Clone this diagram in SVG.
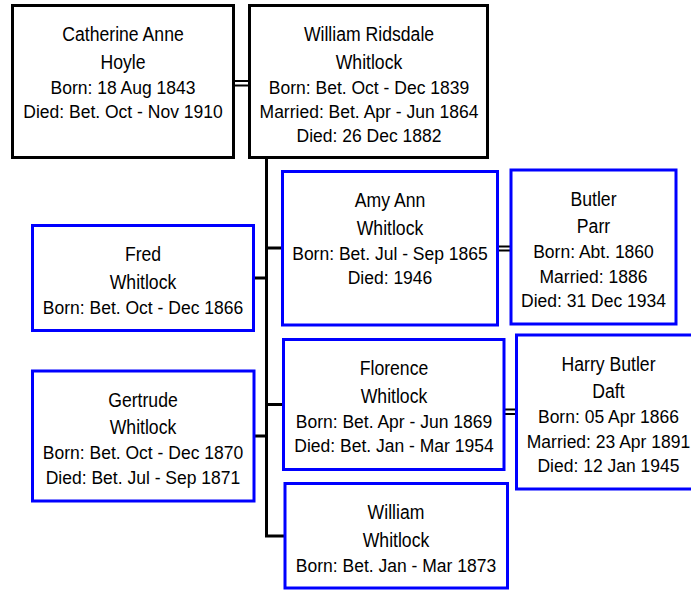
<svg xmlns="http://www.w3.org/2000/svg" width="691" height="590" viewBox="0 0 691 590">
<style>
.bk{fill:#fff;stroke:#000;stroke-width:3}
.bl{fill:#fff;stroke:#0000ff;stroke-width:3}
.ln{stroke:#000;stroke-width:3;fill:none}
.mr{stroke:#000;stroke-width:2.2;fill:none}
text{font-family:"Liberation Sans",Arial,sans-serif;fill:#000;text-anchor:middle}
.nm{font-size:21px}
.dt{font-size:17.5px}
</style>
<rect width="691" height="590" fill="#fff"/>
<g id="connectors">
<path class="ln" d="M266.5 157.5V537.5M266.5 248H282.5M253.5 278H266.5M266.5 404.5H283.5M253.5 436H266.5M266.5 536H285"/>
<path class="mr" d="M233.5 81H249.5M233.5 85.5H249.5M497.5 246.5H511M497.5 250.5H511M504 409.5H516.5M504 414H516.5"/>
</g>
<g id="catherine">
<rect class="bk" x="12.5" y="5.5" width="221" height="152"/>
<text class="nm" transform="matrix(0.84 0 0 1 123 41)">Catherine Anne</text>
<text class="nm" transform="matrix(0.84 0 0 1 123 68.5)">Hoyle</text>
<text class="dt" x="123" y="93.5">Born: 18 Aug 1843</text>
<text class="dt" x="123" y="118">Died: Bet. Oct - Nov 1910</text>
</g>
<g id="william-ridsdale">
<rect class="bk" x="249.5" y="5.5" width="238" height="152"/>
<text class="nm" transform="matrix(0.84 0 0 1 369 41)">William Ridsdale</text>
<text class="nm" transform="matrix(0.84 0 0 1 369 68.5)">Whitlock</text>
<text class="dt" x="369" y="93.5">Born: Bet. Oct - Dec 1839</text>
<text class="dt" x="369" y="118">Married: Bet. Apr - Jun 1864</text>
<text class="dt" x="369" y="142">Died: 26 Dec 1882</text>
</g>
<g id="amy">
<rect class="bl" x="282.5" y="171.5" width="215" height="153.5"/>
<text class="nm" transform="matrix(0.84 0 0 1 390 207)">Amy Ann</text>
<text class="nm" transform="matrix(0.84 0 0 1 390 234.5)">Whitlock</text>
<text class="dt" x="390" y="259.5">Born: Bet. Jul - Sep 1865</text>
<text class="dt" x="390" y="284">Died: 1946</text>
</g>
<g id="butler-parr">
<rect class="bl" x="511" y="170" width="165" height="154"/>
<text class="nm" transform="matrix(0.84 0 0 1 593.5 205.5)">Butler</text>
<text class="nm" transform="matrix(0.84 0 0 1 593.5 233)">Parr</text>
<text class="dt" x="593.5" y="258">Born: Abt. 1860</text>
<text class="dt" x="593.5" y="282.5">Married: 1886</text>
<text class="dt" x="593.5" y="306.5">Died: 31 Dec 1934</text>
</g>
<g id="fred">
<rect class="bl" x="32.5" y="225.5" width="221" height="105"/>
<text class="nm" transform="matrix(0.84 0 0 1 143 261)">Fred</text>
<text class="nm" transform="matrix(0.84 0 0 1 143 288.5)">Whitlock</text>
<text class="dt" x="143" y="313.5">Born: Bet. Oct - Dec 1866</text>
</g>
<g id="florence">
<rect class="bl" x="283.5" y="339.5" width="220.5" height="130"/>
<text class="nm" transform="matrix(0.84 0 0 1 394 375)">Florence</text>
<text class="nm" transform="matrix(0.84 0 0 1 394 402.5)">Whitlock</text>
<text class="dt" x="394" y="427.5">Born: Bet. Apr - Jun 1869</text>
<text class="dt" x="394" y="452">Died: Bet. Jan - Mar 1954</text>
</g>
<g id="harry-butler">
<rect class="bl" x="516.5" y="335" width="184" height="154"/>
<text class="nm" transform="matrix(0.84 0 0 1 608.5 370.5)">Harry Butler</text>
<text class="nm" transform="matrix(0.84 0 0 1 608.5 398)">Daft</text>
<text class="dt" x="608.5" y="423">Born: 05 Apr 1866</text>
<text class="dt" x="608.5" y="447.5">Married: 23 Apr 1891</text>
<text class="dt" x="608.5" y="471.5">Died: 12 Jan 1945</text>
</g>
<g id="gertrude">
<rect class="bl" x="32.5" y="371" width="221.5" height="130"/>
<text class="nm" transform="matrix(0.84 0 0 1 143 406.5)">Gertrude</text>
<text class="nm" transform="matrix(0.84 0 0 1 143 434)">Whitlock</text>
<text class="dt" x="143" y="459">Born: Bet. Oct - Dec 1870</text>
<text class="dt" x="143" y="483.5">Died: Bet. Jul - Sep 1871</text>
</g>
<g id="william">
<rect class="bl" x="285" y="483.5" width="222.5" height="104.5"/>
<text class="nm" transform="matrix(0.84 0 0 1 396 519)">William</text>
<text class="nm" transform="matrix(0.84 0 0 1 396 546.5)">Whitlock</text>
<text class="dt" x="396" y="571.5">Born: Bet. Jan - Mar 1873</text>
</g>
</svg>
